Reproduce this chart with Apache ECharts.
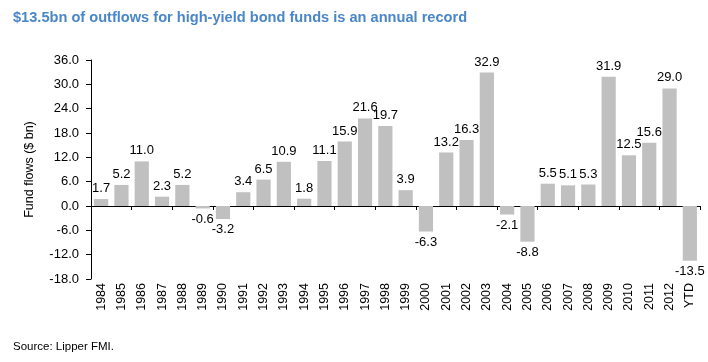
<!DOCTYPE html>
<html><head><meta charset="utf-8">
<script src="https://cdn.jsdelivr.net/npm/echarts@6/dist/echarts.min.js"></script>
<style>html,body{margin:0;padding:0;background:#fff}#c{width:708px;height:362px}</style>
</head><body><div id="c"></div>
<script>
const categories = ['1984','1985','1986','1987','1988','1989','1990','1991','1992','1993','1994','1995','1996','1997','1998','1999','2000','2001','2002','2003','2004','2005','2006','2007','2008','2009','2010','2011','2012','YTD'];
const flows = [1.7,5.2,11.0,2.3,5.2,-0.6,-3.2,3.4,6.5,10.9,1.8,11.1,15.9,21.6,19.7,3.9,-6.3,13.2,16.3,32.9,-2.1,-8.8,5.5,5.1,5.3,31.9,12.5,15.6,29.0,-13.5];
const yTicks = [-18,-12,-6,0,6,12,18,24,30,36];

const chart = echarts.init(document.getElementById('c'));
chart.setOption({
  animation:false,
  textStyle:{fontFamily:'Liberation Sans, Arial, sans-serif'},
  title:[{text:'$13.5bn of outflows for high-yield bond funds is an annual record',left:8,top:5,
    textStyle:{color:'#4a86c8',fontSize:14.6,fontWeight:'bold',fontFamily:'Liberation Sans, Arial, sans-serif'}},
    {text:'Source: Lipper FMI.',left:8,top:336,textStyle:{color:'#000',fontSize:11.5,fontWeight:'normal',fontFamily:'Liberation Sans, Arial, sans-serif'}}],
  grid:{left:91,right:8,top:60,bottom:83},
  xAxis:[{type:'category',data:categories,position:'bottom',
      axisLine:{onZero:true,lineStyle:{color:'#000',width:1}},
      axisTick:{show:true,inside:false,length:4,lineStyle:{color:'#000'}},
      axisLabel:{show:false}},
    {type:'category',data:categories,position:'bottom',
      axisLine:{show:false},axisTick:{show:false},
      axisLabel:{rotate:90,color:'#000',fontSize:12.5,margin:4,interval:0}}],
  yAxis:{type:'value',min:yTicks[0],max:yTicks[yTicks.length-1],interval:6,
    name:'Fund flows ($ bn)',nameLocation:'middle',nameGap:55,nameRotate:90,
    nameTextStyle:{color:'#000',fontSize:12.5},
    axisLine:{show:true,lineStyle:{color:'#000'}},
    axisTick:{show:true,length:5,lineStyle:{color:'#000'}},
    splitLine:{show:false},
    axisLabel:{color:'#000',fontSize:13,margin:12,formatter:v=>v.toFixed(1)}},
  series:[{type:'bar',xAxisIndex:0,barCategoryGap:'30%',
    data:flows.map(v=>({value:v,label:{position:v<0?'bottom':'top'}})),
    itemStyle:{color:'#c0c0c0'},
    label:{show:true,color:'#000',fontSize:13,distance:4,
      formatter:p=>p.value.toFixed(1)}}]
});
</script></body></html>
